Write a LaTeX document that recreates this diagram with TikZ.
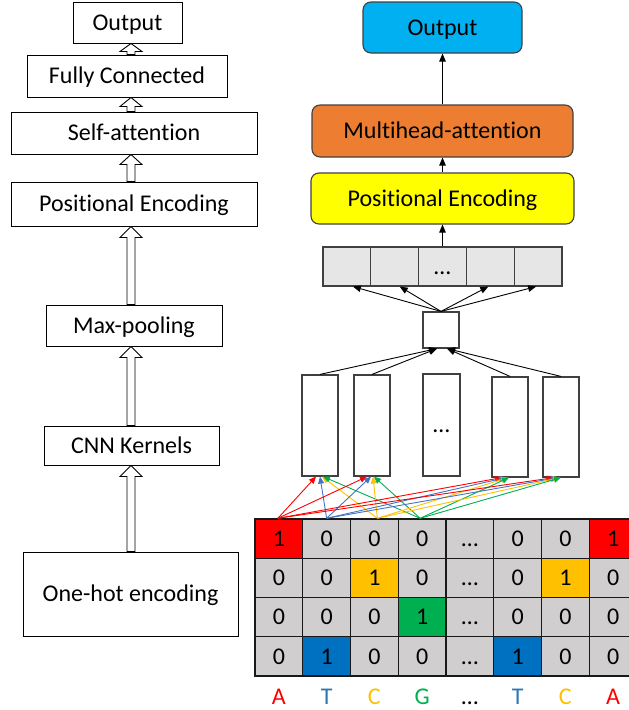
\documentclass[tikz,border=0pt]{standalone}
\usepackage{fontspec}
\setmainfont[Ligatures=NoCommon]{Carlito}
\usetikzlibrary{arrows.meta,calc}

\definecolor{outcyan}{HTML}{00B0F0}
\definecolor{mhorange}{HTML}{ED7D31}
\definecolor{peyellow}{HTML}{FFFF00}
\definecolor{rowgray}{HTML}{E6E6E6}
\definecolor{cellgray}{HTML}{D0CECE}
\definecolor{bred}{HTML}{FF0000}
\definecolor{bgold}{HTML}{FFC000}
\definecolor{bgreen}{HTML}{00B050}
\definecolor{bblue}{HTML}{0070C0}
\definecolor{lblue}{HTML}{2E75B6}
\definecolor{ablue}{HTML}{4472C4}
\definecolor{edge}{HTML}{404040}

% cell text: 'e' stands for an ellipsis
\newcommand\mcell[1]{\if e#1…\else #1\fi}

% hollow block arrow from the top of #2 up to the bottom of #3
\newcommand\hollowup[3][11]{%
  \draw[hollow] let \p1=(#2.north), \p2=(#3.south) in
    (127pt,\y1) -- (127pt,\y2-#1pt) -- (120pt,\y2-#1pt) -- (131pt,\y2)
    -- (142pt,\y2-#1pt) -- (135pt,\y2-#1pt) -- (135pt,\y1) -- cycle;}

\begin{document}
\begin{tikzpicture}[x=1pt,y=-1pt,
  font=\fontsize{24}{28}\selectfont,
  every node/.style={text height=15.5pt, text depth=0pt},
  lbox/.style={draw=black, line width=1pt, fill=white, inner sep=0pt},
  rbox/.style={draw=edge, line width=1.1pt, rounded corners=8pt, inner sep=0pt},
  rowcell/.style={draw=edge, line width=1.1pt, fill=rowgray, minimum width=47.8pt, minimum height=39pt, inner sep=0pt},
  kernel/.style={draw=edge, line width=1.2pt, fill=white, inner sep=0pt},
  cell/.style={draw=black!90, line width=1.4pt, fill=cellgray, minimum width=47.75pt, minimum height=39.25pt, inner sep=0pt},
  hollow/.style={draw=black, line width=0.9pt, fill=white, line join=miter},
  barr/.style={draw=black, line width=0.9pt, -{Triangle[length=8pt,width=6.5pt]}},
  carr/.style={line width=0.9pt, -{Triangle[length=7pt,width=6pt]}},
  cell 1-1/.style={fill=bred}, cell 1-8/.style={fill=bred},
  cell 2-3/.style={fill=bgold}, cell 2-7/.style={fill=bgold},
  cell 3-4/.style={fill=bgreen},
  cell 4-2/.style={fill=bblue}, cell 4-6/.style={fill=bblue},
]
\useasboundingbox (0,0) rectangle (629,710);

% ---------- left: pipeline overview ----------
\node[lbox, minimum width=109pt, minimum height=41pt] (lout) at (127.5,22.5) {Output};
\node[lbox, minimum width=200pt, minimum height=42pt] (lfc)  at (127,76) {Fully Connected};
\node[lbox, minimum width=246pt, minimum height=42pt] (lsa)  at (134,133) {Self-attention};
\node[lbox, minimum width=246pt, minimum height=44pt] (lpe)  at (134,204) {Positional Encoding};
\node[lbox, minimum width=176pt, minimum height=41pt] (lmp)  at (134,325.5) {Max-pooling};
\node[lbox, minimum width=175pt, minimum height=39pt] (lcnn) at (131.5,445.5) {CNN Kernels};
\node[lbox, minimum width=215pt, minimum height=84pt] (loh)  at (130.5,594) {One-hot encoding};

\hollowup[8]{lfc}{lout}
\hollowup[9]{lsa}{lfc}
\hollowup[10]{lpe}{lsa}
\hollowup{lmp}{lpe}
\hollowup{lcnn}{lmp}
\hollowup{loh}{lcnn}

% ---------- right: detailed model ----------
\node[rbox, fill=outcyan,  minimum width=159pt, minimum height=51pt] (rout) at (442.5,27.5) {Output};
\node[rbox, fill=mhorange, minimum width=261pt, minimum height=52pt] (rmh)  at (442.5,131) {Multihead-attention};
\node[rbox, fill=peyellow, minimum width=263pt, minimum height=51pt] (rpe)  at (442.5,198.5) {Positional Encoding};

\foreach \i in {1,...,5}
  \node[rowcell] (g\i) at ({323+47.8*(\i-0.5)},266.5) {};
\node at (g3) {…};

\node[kernel, minimum width=36pt, minimum height=36pt] (sb) at (441,330) {};

\node[kernel, minimum width=36pt, minimum height=101pt] (k1) at (320,425.5) {};
\node[kernel, minimum width=36pt, minimum height=101pt] (k2) at (372,425.5) {};
\node[kernel, minimum width=37pt, minimum height=102pt] (k3) at (441.5,425) {…};
\node[kernel, minimum width=36pt, minimum height=100pt] (k4) at (510,427) {};
\node[kernel, minimum width=36pt, minimum height=100pt] (k5) at (561,427) {};

% one-hot matrix
\foreach \v [count=\c] in {1,0,0,0,e,0,0,1}
  \node[cell, cell 1-\c/.try] (m1\c) at ({255+47.75*(\c-0.5)},538.6) {\mcell\v};
\foreach \v [count=\c] in {0,0,1,0,e,0,1,0}
  \node[cell, cell 2-\c/.try] (m2\c) at ({255+47.75*(\c-0.5)},577.9) {\mcell\v};
\foreach \v [count=\c] in {0,0,0,1,e,0,0,0}
  \node[cell, cell 3-\c/.try] (m3\c) at ({255+47.75*(\c-0.5)},617.1) {\mcell\v};
\foreach \v [count=\c] in {0,1,0,0,e,1,0,0}
  \node[cell, cell 4-\c/.try] (m4\c) at ({255+47.75*(\c-0.5)},656.4) {\mcell\v};

% sequence letters
\foreach \t/\col [count=\c] in {A/bred,T/lblue,C/bgold,G/bgreen,…/black,T/lblue,C/bgold,A/bred}
  \node[text=\col] (s\c) at ({255+47.75*(\c-0.5)},697) {\t};

% convolution connections
\foreach \k/\d in {k1/0,k2/-1,k4/-4,k5/-3} {
  \draw[carr, bred]   ([xshift=-1]m11.north) -- ([xshift=\d-4]\k.south);
  \draw[carr, ablue]  ([xshift=0]m12.north)  -- ([xshift=\d]\k.south);
  \draw[carr, bgold]  ([xshift=3]m13.north)  -- ([xshift=\d+2]\k.south);
  \draw[carr, bgreen] ([xshift=-2]m14.north) -- ([xshift=\d+3]\k.south);
}

% pooling
\draw[barr] (k1.north) -- ([xshift=-4]sb.south);
\draw[barr] (k2.north) -- ([xshift=-4]sb.south);
\draw[barr] (k4.north) -- ([xshift=6]sb.south);
\draw[barr] (k5.north) -- ([xshift=6]sb.south);

\draw[barr] (sb.north) -- ([xshift=6]g1.south);
\draw[barr] (sb.north) -- ([xshift=5]g2.south);
\draw[barr] (sb.north) -- ([xshift=-2]g4.south);
\draw[barr] (sb.north) -- ([xshift=-2]g5.south);

\draw[barr] (g3.north) -- (rpe.south);
\draw[barr] (rpe.north) -- (rmh.south);
\draw[barr] (rmh.north) -- (rout.south);
\end{tikzpicture}
\end{document}
